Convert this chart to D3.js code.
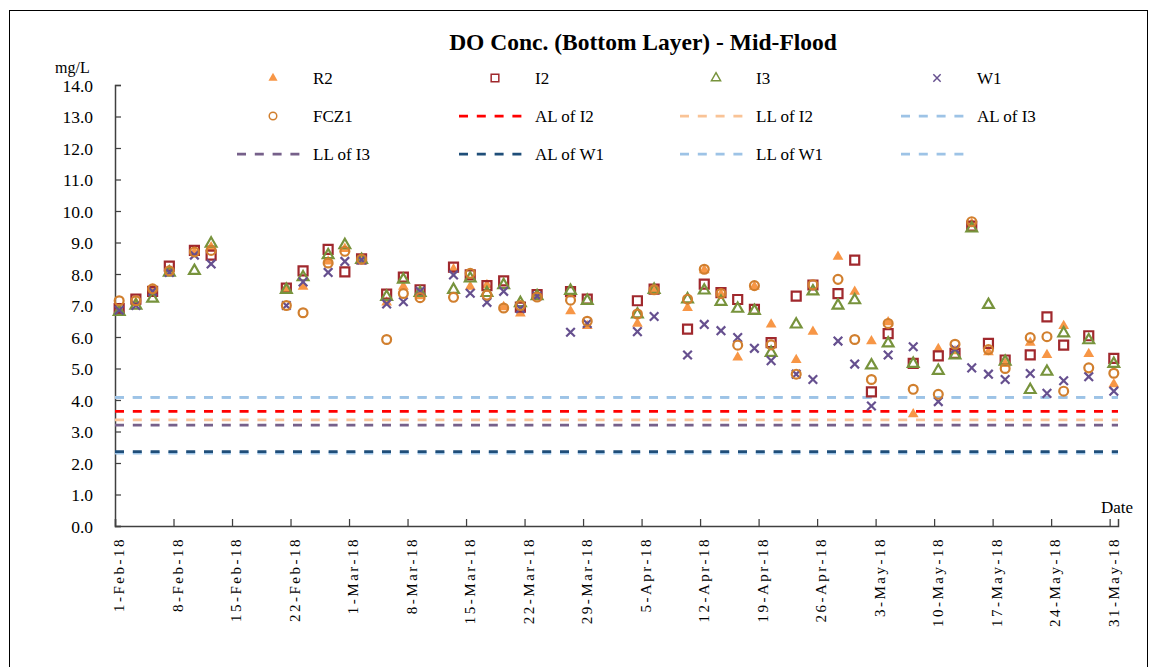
<!DOCTYPE html>
<html lang="en">

<head>
    <meta charset="UTF-8">
    <title>DO Conc. (Bottom Layer) - Mid-Flood</title>
    <script src="https://d3js.org/d3.v7.min.js"></script>
    <style>
        body { margin: 0; background: #fff; }
        text { font-family: "Liberation Serif", "Times New Roman", serif; fill: #000; }
    </style>
</head>

<body>
    <svg id="chart" width="1160" height="667"></svg>
    <script>
        // sampling dates (mid-flood, bottom layer)
        var dates = ["2018-02-01", "2018-02-03", "2018-02-05", "2018-02-07", "2018-02-10", "2018-02-12",
            "2018-02-21", "2018-02-23", "2018-02-26", "2018-02-28", "2018-03-02", "2018-03-05", "2018-03-07",
            "2018-03-09", "2018-03-13", "2018-03-15", "2018-03-17", "2018-03-19", "2018-03-21", "2018-03-23",
            "2018-03-27", "2018-03-29", "2018-04-04", "2018-04-06", "2018-04-10", "2018-04-12", "2018-04-14",
            "2018-04-16", "2018-04-18", "2018-04-20", "2018-04-23", "2018-04-25", "2018-04-28", "2018-04-30",
            "2018-05-02", "2018-05-04", "2018-05-07", "2018-05-10", "2018-05-12", "2018-05-14", "2018-05-16",
            "2018-05-18", "2018-05-21", "2018-05-23", "2018-05-25", "2018-05-28", "2018-05-31"];

        var r2 = [6.9, 7.1, 7.5, 8.1, 8.7, 8.85, 7.5, 7.6, 8.4, 8.8, 8.45, 7.1, 7.6, 7.3, 8.15, 7.6, 7.65, 6.95, 6.75, 7.3,
            6.82, 6.35, 6.42, 7.5, 6.92, 8.12, 7.35, 5.35, 7.6, 6.4, 5.27, 6.17, 8.55, 7.44, 5.87, 6.47, 3.55, 5.62, 5.55,
            9.6, 5.52, 5.15, 5.82, 5.43, 6.35, 5.46, 4.5];
        var i2 = [6.9, 7.2, 7.45, 8.25, 8.75, 8.6, 7.55, 8.1, 8.78, 8.07, 8.48, 7.36, 7.9, 7.5, 8.22, 7.97, 7.63, 7.78, 6.95,
            7.35, 7.44, 7.2, 7.15, 7.52, 6.25, 7.68, 7.41, 7.19, 6.88, 5.82, 7.3, 7.65, 7.38, 8.44, 4.26, 6.11, 5.16, 5.4,
            5.48, 9.52, 5.8, 5.27, 5.43, 6.64, 5.74, 6.04, 5.32];
        var i3 = [6.8, 7.0, 7.22, 8.05, 8.1, 8.97, 7.5, 7.9, 8.6, 8.92, 8.45, 7.28, 7.82, 7.4, 7.5, 7.86, 7.4, 7.65, 7.08,
            7.3, 7.47, 7.15, 6.72, 7.5, 7.2, 7.48, 7.12, 6.9, 6.83, 5.5, 6.4, 7.45, 7.0, 7.17, 5.1, 5.8, 5.15, 4.93, 5.42,
            9.45, 7.02, 5.22, 4.32, 4.9, 6.12, 5.9, 5.15];
        var w1 = [6.85, 7.0, 7.45, 8.05, 8.6, 8.32, 7.0, 7.75, 8.05, 8.4, 8.45, 7.05, 7.12, 7.45, 7.97, 7.39, 7.1, 7.45, 6.9,
            7.3, 6.15, 6.43, 6.17, 6.65, 5.43, 6.4, 6.2, 5.98, 5.64, 5.25, 4.82, 4.65, 5.87, 5.14, 3.81, 5.43, 5.69, 3.95,
            5.62, 5.02, 4.82, 4.65, 4.84, 4.21, 4.61, 4.74, 4.28];
        var fcz1 = [7.15, 7.15, 7.53, 8.1, 8.7, 8.75, 7.0, 6.77, 8.35, 8.72, 8.47, 5.92, 7.38, 7.25, 7.26, 8.02, 7.33, 6.92,
            7.0, 7.27, 7.17, 6.5, 6.73, 7.5, 7.2, 8.15, 7.38, 5.74, 7.63, 5.75, 4.82, 7.66, 7.83, 5.92, 4.65, 6.43, 4.34,
            4.18, 5.77, 9.66, 5.6, 5.0, 5.98, 6.01, 4.28, 5.02, 4.85];

        // action / limit levels (flat lines)
        var limitNames = ["AL of I2", "LL of I2", "AL of I3", "LL of I3", "AL of W1", "LL of W1", ""];
        var limitValues = [3.64, 3.37, 4.08, 3.2, 2.36, 2.31, 4.08];

        var yTicks = d3.range(0, 14.01, 1);

        var svg = d3.select("#chart"),
            width = +svg.attr("width"),
            height = +svg.attr("height");

        // plot box (window.top is read-only, so no "top" here)
        var plotL = 115, plotR = 1118, plotT = 85, plotB = 526;

        var parse = d3.utcParse("%Y-%m-%d");
        var x = d3.scaleUtc()
            .domain([parse("2018-02-01"), parse("2018-06-01")])
            .range([plotL, plotR]);
        var y = d3.scaleLinear().domain([0, 14]).range([plotB, plotT]);
        var halfDay = 12 * 3600 * 1000;
        var xc = function (s) { return x(new Date(parse(s).getTime() + halfDay)); };

        // outer frame
        svg.append("rect")
            .attr("x", 9.5).attr("y", 10.5)
            .attr("width", 1138).attr("height", 680)
            .attr("fill", "none").attr("stroke", "#000").attr("stroke-width", 1);

        svg.append("text")
            .attr("x", 643).attr("y", 50)
            .attr("text-anchor", "middle")
            .style("font-size", "23.5px").style("font-weight", "bold")
            .text("DO Conc. (Bottom Layer) - Mid-Flood");

        // axes
        var yAxis = d3.axisLeft(y).tickValues(yTicks).tickSize(-6).tickPadding(22)
            .tickFormat(d3.format(".1f"));
        var gy = svg.append("g").attr("transform", "translate(" + plotL + ",0)").call(yAxis);
        gy.selectAll("text").style("font-size", "17.5px").attr("dy", "0.35em");

        var xTicks = d3.utcDay.range(parse("2018-02-01"), parse("2018-06-01"), 7);
        var xAxis = d3.axisBottom(x).tickValues(xTicks).tickSize(-7).tickFormat("");
        var gx = svg.append("g").attr("transform", "translate(0," + plotB + ")").call(xAxis);

        [gx, gy].forEach(function (g) {
            g.select(".domain").attr("stroke", "#404040").attr("stroke-width", 1.5);
            g.selectAll(".tick line").attr("stroke", "#404040").attr("stroke-width", 1.25);
        });

        // rotated date labels, centred in the day slot
        var fmt = d3.utcFormat("%-d-%b-%y");
        svg.append("g").selectAll("text")
            .data(xTicks)
            .enter().append("text")
            .attr("transform", function (d) {
                return "translate(" + (x(new Date(d.getTime() + halfDay)) + 5) + "," + 537 + ") rotate(-90)";
            })
            .attr("text-anchor", "end")
            .style("font-size", "15px")
            .style("letter-spacing", "2.5px")
            .text(function (d) { return fmt(d); });

        svg.append("text").attr("x", 55).attr("y", 73).style("font-size", "16px").text("mg/L");
        svg.append("text").attr("x", 1101).attr("y", 513).style("font-size", "17px").text("Date");

        // limit lines
        var limitColors = ["#ff0000", "#f9c396", "#9dc3e6", "#76608a", "#1f4e79", "#9dc3e6", "#9dc3e6"];
        var order = [5, 6, 2, 0, 1, 3, 4];
        svg.append("g").selectAll("line")
            .data(order)
            .enter().append("line")
            .attr("x1", plotL).attr("x2", plotR)
            .attr("y1", function (i) { return y(limitValues[i]); })
            .attr("y2", function (i) { return y(limitValues[i]); })
            .attr("stroke", function (i) { return limitColors[i]; })
            .attr("stroke-width", 2.75)
            .attr("stroke-dasharray", "9,8.8");

        // marker shapes
        var shapes = {
            tri: d3.symbol().type(d3.symbolTriangle).size(50)(),
            sq: "M-4.5,-4.5H4.5V4.5H-4.5Z",
            circ: d3.symbol().type(d3.symbolCircle).size(62)(),
            x: "M-4.3,-4.3L4.3,4.3M-4.3,4.3L4.3,-4.3"
        };
        var series = [
            { name: "R2", vals: r2, shape: "tri", fill: "#f79646", stroke: "none" },
            { name: "I2", vals: i2, shape: "sq", fill: "none", stroke: "#a0282d" },
            { name: "I3", vals: i3, shape: "tri", fill: "none", stroke: "#77933c" },
            { name: "W1", vals: w1, shape: "x", fill: "none", stroke: "#66508f" },
            { name: "FCZ1", vals: fcz1, shape: "circ", fill: "none", stroke: "#d17f2e" }
        ];

        series.forEach(function (s) {
            svg.append("g").selectAll("path")
                .data(s.vals)
                .enter().append("path")
                .attr("d", shapes[s.shape])
                .attr("transform", function (d, i) { return "translate(" + xc(dates[i]) + "," + y(d) + ")"; })
                .attr("fill", s.fill)
                .attr("stroke", s.stroke)
                .attr("stroke-width", 2.2);
        });

        // legend: 4 columns x 3 rows
        var colX = [313, 535, 756, 977], rowY = [79, 117, 155];
        var legendItems = series.map(function (s) { return { label: s.name, s: s }; })
            .concat(limitNames.map(function (n, i) { return { label: n, color: limitColors[i] }; }));

        var leg = svg.append("g").selectAll("g")
            .data(legendItems)
            .enter().append("g")
            .attr("transform", function (d, i) { return "translate(" + colX[i % 4] + "," + rowY[Math.floor(i / 4)] + ")"; });

        leg.each(function (d) {
            var g = d3.select(this);
            if (d.s) {
                g.append("path")
                    .attr("d", shapes[d.s.shape])
                    .attr("transform", "translate(-40,-1) scale(0.85)")
                    .attr("fill", d.s.fill).attr("stroke", d.s.stroke).attr("stroke-width", 1.75);
            } else {
                g.append("line")
                    .attr("x1", -76).attr("x2", -11).attr("y1", -1).attr("y2", -1)
                    .attr("stroke", d.color).attr("stroke-width", 2.75).attr("stroke-dasharray", "9,8.8");
            }
            g.append("text").attr("y", 5).style("font-size", "17px").text(d.label);
        });
    </script>
</body>

</html>
